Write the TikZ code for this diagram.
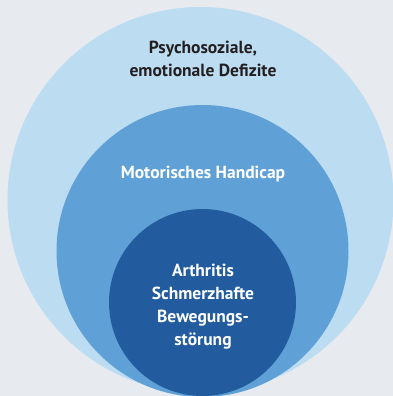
\documentclass[tikz,border=0pt]{standalone}
\usepackage{fontspec}
\setmainfont{PT Sans}
\definecolor{hintergrund}{HTML}{E7EBEF}
\definecolor{hellblau}{HTML}{BCDCF2}
\definecolor{mittelblau}{HTML}{5FA1D6}
\definecolor{dunkelblau}{HTML}{225C9F}
\definecolor{schrift}{HTML}{231F20}
\tikzset{
  kreistext/.style={align=center, font=\bfseries\fontsize{17.5}{23}\selectfont, inner sep=0pt}
}
\begin{document}
\begin{tikzpicture}[x=1pt, y=-1pt]
    % Hintergrund
    \fill[hintergrund] (0,0) rectangle (393,396);
    \useasboundingbox (0,0) rectangle (393,396);
    \clip (0,0) rectangle (393,396);

    % Kreise
    \fill[hellblau] (200.5,200) circle[radius=193];
    \fill[mittelblau] (202.5,251) circle[radius=146];
    \fill[dunkelblau] (202.5,302.5) circle[radius=93.5];

    % Beschriftungen
    \node[kreistext, text=schrift] (psycho) at (203,59) {Psychosoziale,\\emotionale Defizite};
    \node[kreistext, text=white] (motor) at (203,174) {Motorisches Handicap};
    \node[kreistext, text=white] (arthritis) at (203,307) {Arthritis\\Schmerzhafte\\Bewegungs-\\störung};
\end{tikzpicture}
\end{document}
